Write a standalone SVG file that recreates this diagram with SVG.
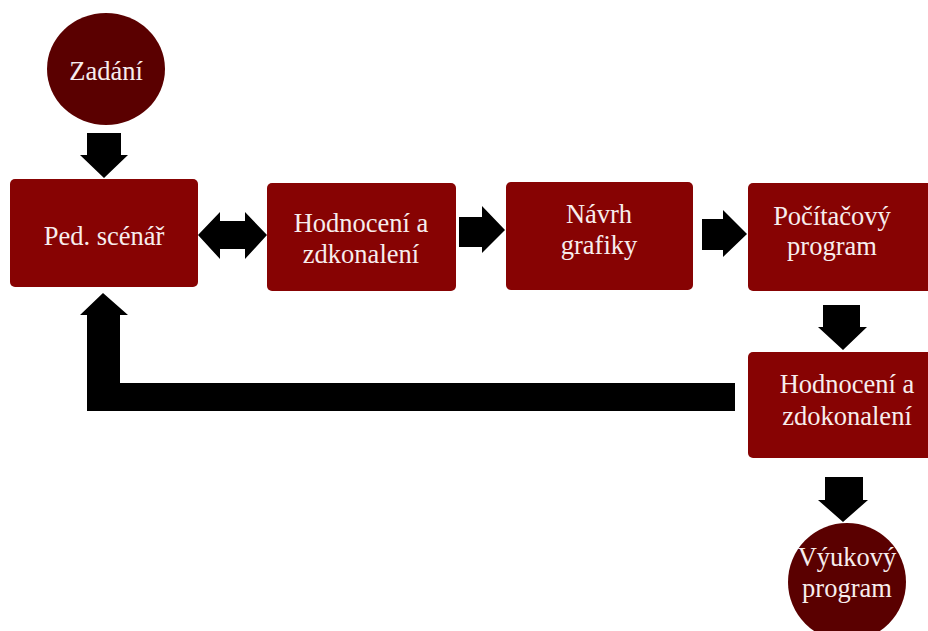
<svg xmlns="http://www.w3.org/2000/svg" width="928" height="631" viewBox="0 0 928 631">
<style>
.box{fill:#870303;}
.circ{fill:#5a0000;}
.t{font-family:"Liberation Serif","Times New Roman","DejaVu Serif",serif;font-size:26.5px;fill:#f7eded;text-anchor:middle;}
.arr{fill:#000;}
</style>
<rect width="928" height="631" fill="#fff"/>
<g id="connectors">
<polygon class="arr" points="87,133 121,133 121,155 128,155 104,178 80,155 87,155"/>
<polygon class="arr" points="198,235 220,212 220,221 245,221 245,212 267,235 245,259 245,249 220,249 220,259"/>
<polygon class="arr" points="459,217 482,217 482,206 505,230 482,253 482,247 459,247"/>
<polygon class="arr" points="702,219 723,219 723,210 747,234 723,257 723,250 702,250"/>
<polygon class="arr" points="823,305 860,305 860,327 867,327 843,350 818,327 823,327"/>
<polygon class="arr" points="735,383 120,383 120,315 128,315 103,293 80,315 87,315 87,411 735,411"/>
<polygon class="arr" points="825,477 863,477 863,500 868,500 843,522 818,500 825,500"/>
</g>
<g id="zadani">
<ellipse class="circ" cx="106" cy="69" rx="59" ry="56"/>
<text class="t" x="106" y="80" font-family="Liberation Serif, serif">Zadání</text>
</g>
<g id="ped-scenar">
<rect class="box" x="10" y="179" width="188" height="108" rx="5"/>
<text class="t" x="104" y="245" font-family="Liberation Serif, serif">Ped. scénář</text>
</g>
<g id="hodnoceni1">
<rect class="box" x="267" y="183" width="189" height="108" rx="5"/>
<text class="t" x="361" y="232" font-family="Liberation Serif, serif">Hodnocení a</text>
<text class="t" x="361" y="263" font-family="Liberation Serif, serif">zdkonalení</text>
</g>
<g id="navrh">
<rect class="box" x="506" y="182" width="187" height="108" rx="5"/>
<text class="t" x="599" y="223" font-family="Liberation Serif, serif">Návrh</text>
<text class="t" x="599" y="254" font-family="Liberation Serif, serif">grafiky</text>
</g>
<g id="pocitacovy">
<rect class="box" x="748" y="183" width="190" height="108" rx="5"/>
<text class="t" x="832" y="225" font-family="Liberation Serif, serif">Počítačový</text>
<text class="t" x="832" y="255" font-family="Liberation Serif, serif">program</text>
</g>
<g id="hodnoceni2">
<rect class="box" x="748" y="352" width="190" height="106" rx="5"/>
<text class="t" x="847" y="393" font-family="Liberation Serif, serif">Hodnocení a</text>
<text class="t" x="847" y="425" font-family="Liberation Serif, serif">zdokonalení</text>
</g>
<g id="vyukovy">
<circle class="circ" cx="847" cy="582" r="59"/>
<text class="t" x="847" y="566" font-family="Liberation Serif, serif">Výukový</text>
<text class="t" x="847" y="597" font-family="Liberation Serif, serif">program</text>
</g>
</svg>
